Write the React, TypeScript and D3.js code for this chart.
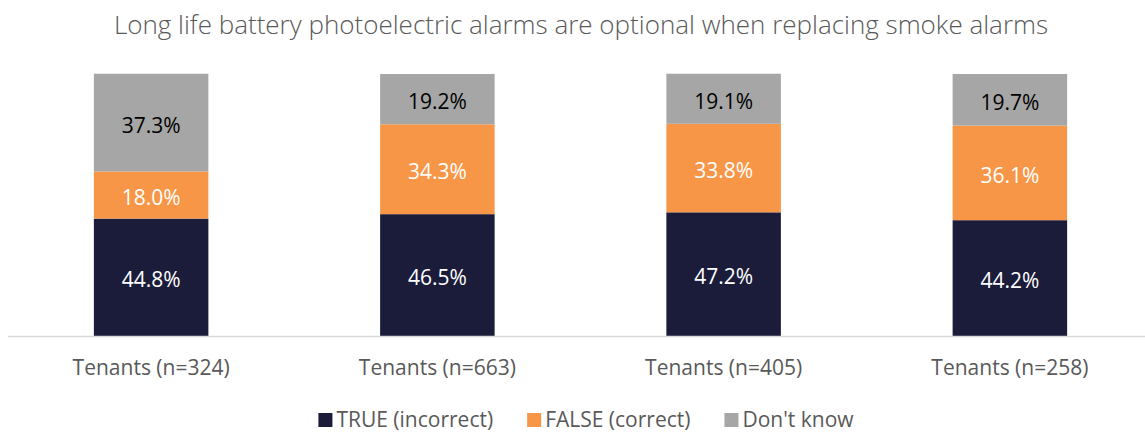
import { useEffect, useRef } from "react";
import * as d3 from "d3";

const title = "Long life battery photoelectric alarms are optional when replacing smoke alarms";
const categories = ["Tenants (n=324)", "Tenants (n=663)", "Tenants (n=405)", "Tenants (n=258)"];
const trueIncorrect = [44.8, 46.5, 47.2, 44.2];
const falseCorrect = [18.0, 34.3, 33.8, 36.1];
const dontKnow = [37.3, 19.2, 19.1, 19.7];

const seriesNames = ["TRUE (incorrect)", "FALSE (correct)", "Don't know"];
const seriesColors = ["#1b1b3a", "#f79646", "#a6a6a6"];
const labelColors = ["#ffffff", "#ffffff", "#000000"];

const W = 1145;
const H = 432;
const FONT = "'Open Sans', 'Noto Sans', sans-serif";

type Row = { cat: string; t: number; f: number; d: number };

export default function App() {
  const ref = useRef<SVGSVGElement | null>(null);

  useEffect(() => {
    if (!ref.current) return;
    const svg = d3.select(ref.current);
    svg.selectAll("*").remove();

    const rows: Row[] = categories.map((cat, i) => ({
      cat,
      t: trueIncorrect[i],
      f: falseCorrect[i],
      d: dontKnow[i],
    }));
    const stacked = d3.stack<Row>().keys(["t", "f", "d"])(rows as never);

    const x = d3
      .scaleBand<string>()
      .domain(categories)
      .range([8, 1153])
      .paddingInner(0.6)
      .paddingOuter(0.3);
    const y = d3.scaleLinear().domain([0, 100]).range([336, 74]);

    // title
    svg
      .append("text")
      .attr("x", 581)
      .attr("y", 34)
      .attr("text-anchor", "middle")
      .attr("font-family", FONT)
      .attr("font-weight", 300)
      .attr("font-size", 26)
      .attr("fill", "#595959")
      .text(title);

    // bars
    const layer = svg
      .append("g")
      .selectAll("g")
      .data(stacked)
      .join("g")
      .attr("fill", (_, i) => seriesColors[i]);

    layer
      .selectAll("rect")
      .data((s) => s.map((p) => ({ p, cat: (p.data as unknown as Row).cat })))
      .join("rect")
      .attr("x", (d) => x(d.cat)!)
      .attr("width", x.bandwidth())
      .attr("y", (d) => y(d.p[1]))
      .attr("height", (d) => y(d.p[0]) - y(d.p[1]));

    // segment labels
    stacked.forEach((s, si) => {
      svg
        .append("g")
        .selectAll("text")
        .data(s)
        .join("text")
        .attr("x", (p) => x((p.data as unknown as Row).cat)! + x.bandwidth() / 2)
        .attr("y", (p) => (y(p[0]) + y(p[1])) / 2 + 10)
        .attr("text-anchor", "middle")
        .attr("font-family", FONT)
        .attr("font-size", 21)
        .attr("fill", labelColors[si])
        .text((p) => `${(p[1] - p[0]).toFixed(1)}%`);
    });

    // baseline
    svg
      .append("line")
      .attr("x1", 8)
      .attr("x2", W)
      .attr("y1", 336.5)
      .attr("y2", 336.5)
      .attr("stroke", "#d9d9d9")
      .attr("stroke-width", 1.5);

    // category labels
    svg
      .append("g")
      .selectAll("text")
      .data(categories)
      .join("text")
      .attr("x", (c) => x(c)! + x.bandwidth() / 2)
      .attr("y", 375)
      .attr("text-anchor", "middle")
      .attr("font-family", FONT)
      .attr("font-size", 21)
      .attr("fill", "#595959")
      .text((c) => c);

    // legend, laid out by measured widths
    const legend = svg.append("g");
    const items = seriesNames.map((name, i) => {
      const g = legend.append("g");
      g.append("rect")
        .attr("width", 14)
        .attr("height", 14)
        .attr("y", 413)
        .attr("fill", seriesColors[i]);
      const t = g
        .append("text")
        .attr("x", 18)
        .attr("y", 427)
        .attr("font-family", FONT)
        .attr("font-size", 21)
        .attr("fill", "#595959")
        .text(name);
      const w = (t.node() as SVGTextElement).getComputedTextLength() + 18;
      return { g, w };
    });
    const gap = 34;
    const total = d3.sum(items, (d) => d.w) + gap * (items.length - 1);
    let cx = 586 - total / 2;
    items.forEach((it) => {
      it.g.attr("transform", `translate(${cx},0)`);
      cx += it.w + gap;
    });
  }, []);

  return (
    <svg
      ref={ref}
      width={W}
      height={H}
      style={{ position: "absolute", left: 0, top: 0, background: "#fff" }}
    />
  );
}
